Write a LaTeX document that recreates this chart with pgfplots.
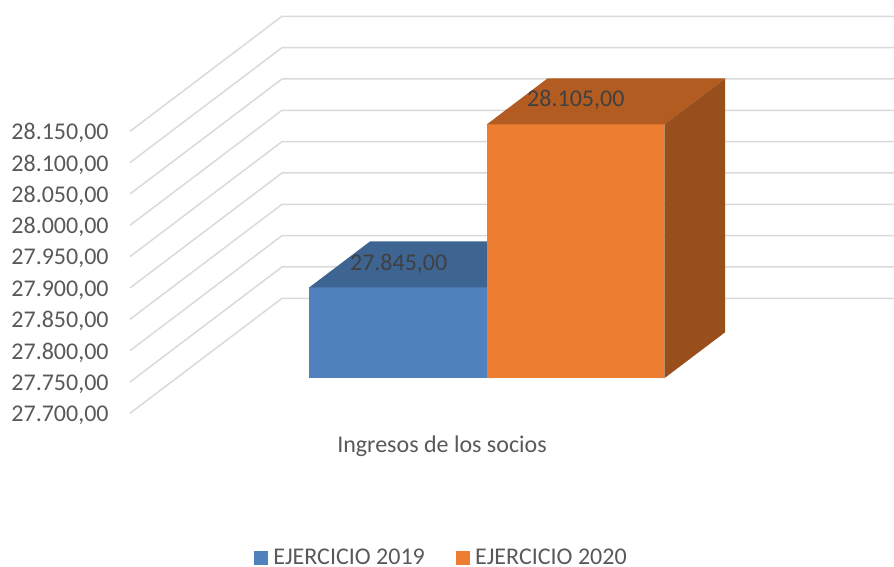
\documentclass[border=0pt]{standalone}
\usepackage{fontspec}
\setmainfont{Carlito}
\usepackage{pgfplots}
\pgfplotsset{compat=1.18}
\definecolor{gridc}{HTML}{D9D9D9}
\definecolor{txtc}{HTML}{595959}
\definecolor{lblc}{HTML}{404040}
\definecolor{bluef}{HTML}{4F81BD}
\definecolor{bluet}{HTML}{3E6491}
\definecolor{orgf}{HTML}{ED7D31}
\definecolor{orgt}{HTML}{B35C21}
\definecolor{orgs}{HTML}{984F1B}
\pgfkeys{/pgfplots/table/proj/.style={x expr=\thisrow{x}+\thisrow{d}*152, y expr=\thisrow{v}+\thisrow{d}*183.5}}
\begin{document}
\begin{tikzpicture}
\path[use as bounding box] (0,0) rectangle (670.5pt,425.25pt);
\begin{axis}[
  at={(97.5pt,0pt)}, anchor=south west,
  scale only axis, width=573pt, height=425.25pt,
  xmin=130, xmax=894, ymin=27454.75, ymax=28359.5,
  clip=false,
  axis line style={draw=none},
  major tick length=0pt,
  xtick=\empty,
  ytick={27700,27750,27800,27850,27900,27950,28000,28050,28100,28150},
  scaled y ticks=false,
  yticklabel style={
    /pgf/number format/.cd, fixed, fixed zerofill, precision=2, 1000 sep={.}, dec sep={,}, assume math mode=true,
    /tikz/.cd, font=\fontsize{18}{20}\selectfont, text=txtc, anchor=east, xshift=-12.5pt, yshift=-1.5pt},
  legend columns=2,
  legend style={draw=none, fill=none, at={(axis cs:443,27469)}, anchor=center,
    font=\fontsize{18}{20}\selectfont, text=txtc, /tikz/every even column/.append style={column sep=20pt},
    inner sep=0pt, nodes={inner xsep=3.6pt, inner ysep=0pt}},
  legend image code/.code={\fill[#1] (0pt,-5.25pt) rectangle (10.5pt,5.25pt);},
]
% gridlines: side wall and back wall
\pgfplotsinvokeforeach{27700,27750,27800,27850,27900,27950,28000,28050,28100,28150}{
  \addplot[forget plot, gridc, line width=1.1pt, line join=bevel] table[proj, row sep=\\]{x d v\\130 0 #1\\130 1 #1\\742 1 #1\\};
}
% EJERCICIO 2019 = 27845
\addplot[draw=none, fill=bluef] table[proj]{
x d v
263 0.3043 27700
440.4 0.3043 27700
440.4 0.3043 27845
263 0.3043 27845
};
\addlegendentry{EJERCICIO 2019}
\addplot[forget plot, draw=none, fill=bluet] table[proj]{
x d v
263 0.3043 27845
440.4 0.3043 27845
440.4 0.7043 27845
263 0.7043 27845
};
% EJERCICIO 2020 = 28105
\addplot[draw=none, fill=orgf] table[proj]{
x d v
440.4 0.3043 27700
618 0.3043 27700
618 0.3043 28105
440.4 0.3043 28105
};
\addlegendentry{EJERCICIO 2020}
\addplot[forget plot, draw=none, fill=orgt] table[proj]{
x d v
440.4 0.3043 28105
618 0.3043 28105
618 0.7043 28105
440.4 0.7043 28105
};
\addplot[forget plot, draw=none, fill=orgs] table[proj]{
x d v
618 0.3043 27700
618 0.7043 27700
618 0.7043 28105
618 0.3043 28105
};
\node[font=\fontsize{18}{20}\selectfont, text=lblc] at (axis cs:398.7,27939) {27.845,00};
\node[font=\fontsize{18}{20}\selectfont, text=lblc] at (axis cs:575.8,28200) {28.105,00};
\node[font=\fontsize{18}{20}\selectfont, text=txtc] at (axis cs:442,27648) {Ingresos de los socios};
\end{axis}
\end{tikzpicture}
\end{document}
